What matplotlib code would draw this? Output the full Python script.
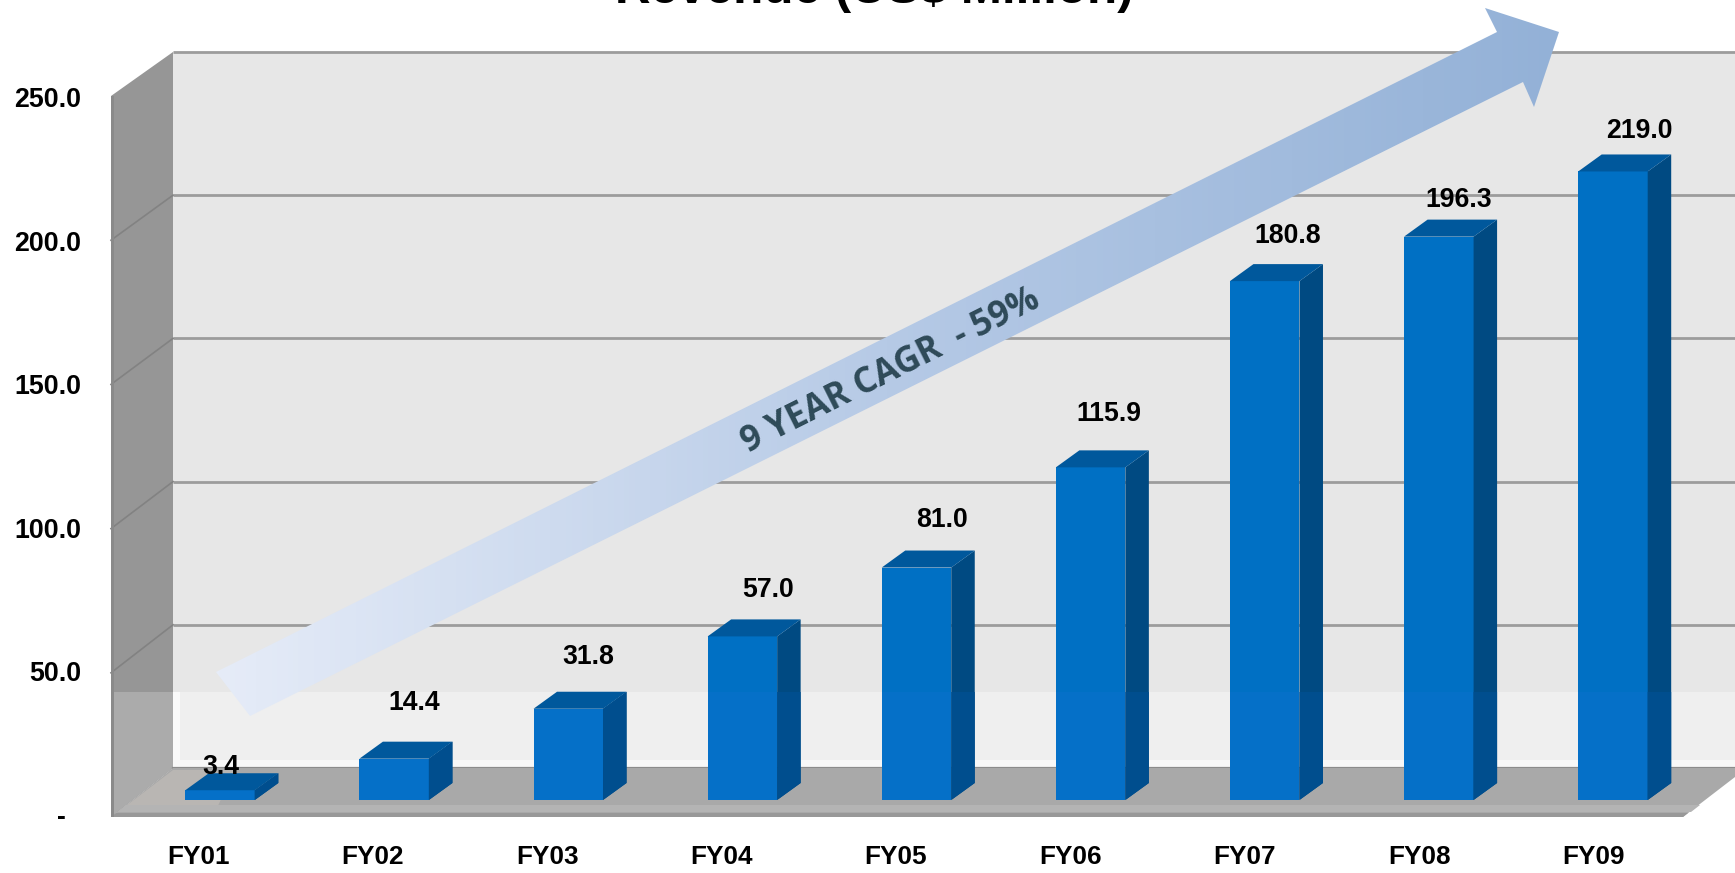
#!/usr/bin/env python3
"""Revenue chart: 3D style columns with a CAGR arrow"""

import matplotlib
matplotlib.use('Agg')
import matplotlib.pyplot as plt
from matplotlib.colors import LinearSegmentedColormap
from matplotlib.patches import Polygon, Rectangle
import numpy as np

plt.rcParams['font.family'] = ['Liberation Sans', 'DejaVu Sans']

# Data
years = ['FY01', 'FY02', 'FY03', 'FY04', 'FY05', 'FY06', 'FY07', 'FY08', 'FY09']
revenue = [3.4, 14.4, 31.8, 57.0, 81.0, 115.9, 180.8, 196.3, 219.0]
revenue_labels = ['3.4', '14.4', '31.8', '57.0', '81.0', '115.9', '180.8', '196.3', '219.0']
axis_ticks = [0, 50, 100, 150, 200, 250]
axis_labels = ['-  ', '50.0', '100.0', '150.0', '200.0', '250.0']

# Where the value labels sit, in pixels
label_x = [221, 414, 588, 768, 942, 1109, 1288, 1459, 1639]
label_y = [767, 703, 657, 590, 520, 414, 236, 200, 131]

# Colors
WALL = '#E7E7E7'
WALL_HAZE = '#F1F1F1'
SIDE_WALL = '#969696'
FLOOR = '#A9A9A9'
GRID = '#9C9C9C'
BAR_FRONT = '#0070C4'
BAR_FRONT_LOW = '#0570C8'
BAR_SIDE = '#004A82'
BAR_SIDE_LOW = '#004E8E'
BAR_TOP = '#00589C'
TEXT = '#000000'
ARROW_TEXT = '#2E4A58'

W, H = 1735, 873
fig = plt.figure(figsize=(W / 100, H / 100), dpi=100, facecolor='white')


def px_axes(left, right, top, bottom, zorder):
    """Axes placed by pixel edges, y counted from the top"""
    ax = fig.add_axes([left / W, 1 - bottom / H, (right - left) / W, (bottom - top) / H])
    ax.set_zorder(zorder)
    ax.patch.set_alpha(0)
    for s in ax.spines.values():
        s.set_visible(False)
    return ax


# Background in pixel coordinates
bg = px_axes(0, W, 0, H, 1)
bg.set_xlim(0, W)
bg.set_ylim(H, 0)
bg.axis('off')

bg.add_patch(Rectangle((173, 52), W - 173, 716, facecolor=WALL, edgecolor='none'))
bg.add_patch(Polygon([(111, 96), (173, 52), (173, 768), (111, 817)],
                     facecolor=SIDE_WALL, edgecolor='none'))

# Back wall and side wall gridlines
for k in range(6):
    y_back = 768 - k * 143.2
    y_front = 817 - k * 144.2
    bg.plot([173, W], [y_back, y_back], color=GRID, lw=2.0, solid_capstyle='butt')
    if 0 < k < 5:
        bg.plot([111, 173], [y_front, y_back], color='#828282', lw=1.2)

# Pale band at the bottom of the walls
bg.add_patch(Rectangle((173, 692), W - 173, 76, facecolor=WALL_HAZE, edgecolor='none',
                       alpha=0.9, zorder=2))
bg.add_patch(Rectangle((173, 692), 7, 76, facecolor='#FAFAFA', edgecolor='none', zorder=2))
bg.add_patch(Rectangle((173, 760), W - 173, 8, facecolor='#F8F8F8', edgecolor='none', zorder=2))
bg.add_patch(Polygon([(111, 692), (173, 692), (173, 768), (111, 817)],
                     facecolor='#ABABAB', edgecolor='none', zorder=2))
bg.plot([173, W], [768, 768], color='#8C8C8C', lw=1.6, zorder=6)

# Arrow with gradient
arrow_pts = [(216, 672), (1497, 32), (1485, 8), (1559, 32), (1534, 107), (1523, 82), (250, 716)]
cmap = LinearSegmentedColormap.from_list('arrow', ['#E6ECF8', '#B6CAE6', '#93B1D7'])
img = bg.imshow(np.linspace(0, 1, 256).reshape(1, -1), cmap=cmap, aspect='auto',
                extent=(214, 1559, 722, 7), zorder=3)
clip = Polygon(arrow_pts, transform=bg.transData, facecolor='none', edgecolor='none')
bg.add_patch(clip)
img.set_clip_path(clip)
bg.set_xlim(0, W)
bg.set_ylim(H, 0)

bg.text(891, 371, '9 YEAR CAGR  - 59%', fontsize=25, fontweight='bold', family='Open Sans',
        color=ARROW_TEXT, rotation=26.6, rotation_mode='anchor', ha='center', va='center', zorder=4)

# Floor
bg.add_patch(Polygon([(111, 817), (173, 768), (W, 768), (W, 777), (1683, 817)],
                     facecolor=FLOOR, edgecolor='none', zorder=6))
bg.add_patch(Polygon([(118, 812), (173, 770), (235, 770), (215, 812)],
                     facecolor='#B9B6B3', edgecolor='none', zorder=6))
bg.add_patch(Polygon([(118, 812), (126, 805), (1700, 805), (1691, 812)],
                     facecolor='#B4B4B4', edgecolor='none', zorder=6))
bg.add_patch(Polygon([(111, 817), (116, 813), (1688, 813), (1683, 817)],
                     facecolor='#989898', edgecolor='none', zorder=6))
bg.add_patch(Rectangle((111, 96), 2.5, 721, facecolor='#8A8A8A', edgecolor='none', zorder=6))

# Title runs off the top of the picture
bg.text(874, 3, 'Revenue (US$ Million)', fontsize=35.6, fontweight='bold', color=TEXT,
        ha='center', va='baseline', zorder=7)

# Front plane axes carry the tick labels
front = px_axes(111, 1681, 97, 815, 2)
front.set_xlim(-0.5, 8.5)
front.set_ylim(0, 250)
front.set_xticks(range(len(years)))
front.set_xticklabels(years, fontsize=18.8, fontweight='bold', color=TEXT)
front.set_yticks(axis_ticks)
front.set_yticklabels(axis_labels, fontsize=19.3, fontweight='bold', color=TEXT)
front.tick_params(axis='both', length=0)
front.tick_params(axis='x', pad=21.4)
front.tick_params(axis='y', pad=21.6)

# Bars
bars = px_axes(133, 1700, 82.5, 800, 3)
bars.set_xlim(-0.5, 8.5)
bars.set_ylim(0, 250)
bars.axis('off')

bar_width = 69.5 / 174.1
depth_x = 23.5 / 174.1
depth_y = 17 / 2.87
band_top = 108 / 2.87  # the pale band reaches this far up the bars

xs = np.arange(len(years))
bars.bar(xs, revenue, width=bar_width, color=BAR_FRONT, edgecolor='none', zorder=3)
bars.bar(xs, np.minimum(revenue, band_top), width=bar_width, color=BAR_FRONT_LOW,
         edgecolor='none', zorder=3)
band_clip = Rectangle((-0.5, 0), 9, band_top, transform=bars.transData)
for x, v in zip(xs, revenue):
    r = x + bar_width / 2
    l = x - bar_width / 2
    side = [(r, 0), (r + depth_x, depth_y), (r + depth_x, v + depth_y), (r, v)]
    bars.add_patch(Polygon(side, facecolor=BAR_SIDE, edgecolor='none', zorder=3))
    low = Polygon(side, facecolor=BAR_SIDE_LOW, edgecolor='none', zorder=3)
    bars.add_patch(low)
    low.set_clip_path(band_clip)
    bars.add_patch(Polygon([(l, v), (l + depth_x, v + depth_y), (r + depth_x, v + depth_y), (r, v)],
                           facecolor=BAR_TOP, edgecolor='none', zorder=3))

# Value labels
for txt, lx, ly in zip(revenue_labels, label_x, label_y):
    bars.text(lx, ly, txt, transform=bg.transData, fontsize=19.2, fontweight='bold',
              color=TEXT, ha='center', va='center', zorder=5)

fig.savefig('out.png', dpi=100, facecolor='white')
